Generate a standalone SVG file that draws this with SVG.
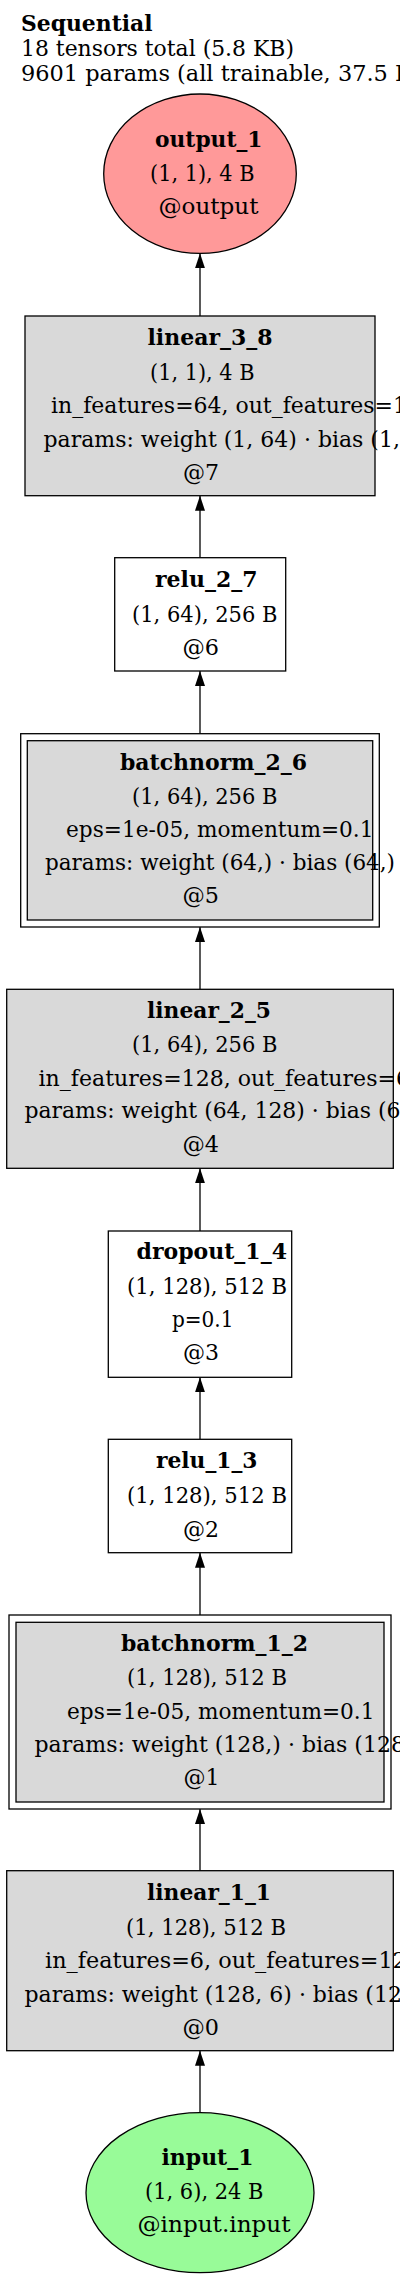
<svg xmlns="http://www.w3.org/2000/svg" width="400" height="2280" viewBox="0 0 400 2280">
<style>
.t{font-family:"DejaVu Serif","Liberation Serif",serif;font-size:21.5px;fill:#000}
.b{font-weight:bold}
.n{stroke:#000;stroke-width:1.3}
.g{fill:#d9d9d9}
.w{fill:#fff}
.e{stroke:#000;stroke-width:1.3;fill:none}
</style>
<defs>
<marker id="ah" viewBox="0 0 15 10" refX="15" refY="5" markerWidth="15" markerHeight="10" markerUnits="userSpaceOnUse" orient="auto">
<path d="M0,0 L15,5 L0,10 z" fill="#000"/>
</marker>
</defs>
<rect width="400" height="2280" fill="#fff"/>
<g id="header">
<text class="t b" x="21" y="31" textLength="131.5" lengthAdjust="spacingAndGlyphs">Sequential</text>
<text class="t" x="21" y="56" textLength="273" lengthAdjust="spacingAndGlyphs">18 tensors total (5.8 KB)</text>
<text class="t" x="21" y="80.5" textLength="416" lengthAdjust="spacingAndGlyphs">9601 params (all trainable, 37.5 KB)</text>
</g>
<g id="connectors">
<path class="e" d="M200,2112.7 V2050.7" marker-end="url(#ah)"/>
<path class="e" d="M200,1870.7 V1809" marker-end="url(#ah)"/>
<path class="e" d="M200,1615 V1552.7" marker-end="url(#ah)"/>
<path class="e" d="M200,1439.3 V1377.3" marker-end="url(#ah)"/>
<path class="e" d="M200,1231 V1168.3" marker-end="url(#ah)"/>
<path class="e" d="M200,989.3 V927" marker-end="url(#ah)"/>
<path class="e" d="M200,733.7 V671" marker-end="url(#ah)"/>
<path class="e" d="M200,557.7 V495.7" marker-end="url(#ah)"/>
<path class="e" d="M200,316 V253.3" marker-end="url(#ah)"/>
</g>
<g id="output_1">
<ellipse class="n" cx="200" cy="173.7" rx="96.3" ry="79.7" fill="#ff9999"/>
<text class="t b" x="155" y="146.7" textLength="107.5" lengthAdjust="spacingAndGlyphs">output_1</text>
<text class="t" x="150" y="180.5" textLength="104.5" lengthAdjust="spacingAndGlyphs">(1, 1), 4 B</text>
<text class="t" x="158.5" y="214" textLength="100" lengthAdjust="spacingAndGlyphs">@output</text>
</g>
<g id="linear_3_8">
<rect class="n g" x="25" y="316" width="350" height="179.7"/>
<text class="t b" x="147.5" y="345" textLength="125" lengthAdjust="spacingAndGlyphs">linear_3_8</text>
<text class="t" x="150" y="380" textLength="104.5" lengthAdjust="spacingAndGlyphs">(1, 1), 4 B</text>
<text class="t" x="51" y="413.3" textLength="356" lengthAdjust="spacingAndGlyphs">in_features=64, out_features=1</text>
<text class="t" x="43.5" y="446.7" textLength="386" lengthAdjust="spacingAndGlyphs">params: weight (1, 64) · bias (1, 1)</text>
<text class="t" x="183" y="480" textLength="36" lengthAdjust="spacingAndGlyphs">@7</text>
</g>
<g id="relu_2_7">
<rect class="n w" x="114.7" y="557.7" width="171" height="113.3"/>
<text class="t b" x="155" y="587.3" textLength="102.5" lengthAdjust="spacingAndGlyphs">relu_2_7</text>
<text class="t" x="132" y="621.7" textLength="145.5" lengthAdjust="spacingAndGlyphs">(1, 64), 256 B</text>
<text class="t" x="182.5" y="655" textLength="36.5" lengthAdjust="spacingAndGlyphs">@6</text>
</g>
<g id="batchnorm_2_6">
<rect class="n w" x="20.7" y="733.7" width="358.6" height="193.3"/>
<rect class="n g" x="27.3" y="740.7" width="345.4" height="179.3"/>
<text class="t b" x="120" y="770" textLength="187" lengthAdjust="spacingAndGlyphs">batchnorm_2_6</text>
<text class="t" x="132" y="804" textLength="145.5" lengthAdjust="spacingAndGlyphs">(1, 64), 256 B</text>
<text class="t" x="66" y="836.7" textLength="307.5" lengthAdjust="spacingAndGlyphs">eps=1e-05, momentum=0.1</text>
<text class="t" x="45" y="870" textLength="350" lengthAdjust="spacingAndGlyphs">params: weight (64,) · bias (64,)</text>
<text class="t" x="182.5" y="903.3" textLength="36.5" lengthAdjust="spacingAndGlyphs">@5</text>
</g>
<g id="linear_2_5">
<rect class="n g" x="6.7" y="989.3" width="386.6" height="179"/>
<text class="t b" x="147" y="1018.3" textLength="124" lengthAdjust="spacingAndGlyphs">linear_2_5</text>
<text class="t" x="132" y="1052.3" textLength="145.5" lengthAdjust="spacingAndGlyphs">(1, 64), 256 B</text>
<text class="t" x="38.5" y="1085.7" textLength="385.5" lengthAdjust="spacingAndGlyphs">in_features=128, out_features=64</text>
<text class="t" x="24.5" y="1118.3" textLength="405.5" lengthAdjust="spacingAndGlyphs">params: weight (64, 128) · bias (64,)</text>
<text class="t" x="182.5" y="1151.7" textLength="36.5" lengthAdjust="spacingAndGlyphs">@4</text>
</g>
<g id="dropout_1_4">
<rect class="n w" x="108.3" y="1231" width="183.4" height="146.3"/>
<text class="t b" x="136.5" y="1259.3" textLength="150.5" lengthAdjust="spacingAndGlyphs">dropout_1_4</text>
<text class="t" x="127" y="1294" textLength="160" lengthAdjust="spacingAndGlyphs">(1, 128), 512 B</text>
<text class="t" x="172" y="1327.3" textLength="61.5" lengthAdjust="spacingAndGlyphs">p=0.1</text>
<text class="t" x="183" y="1360" textLength="36" lengthAdjust="spacingAndGlyphs">@3</text>
</g>
<g id="relu_1_3">
<rect class="n w" x="108.3" y="1439.3" width="183.4" height="113.4"/>
<text class="t b" x="156" y="1468.3" textLength="101.5" lengthAdjust="spacingAndGlyphs">relu_1_3</text>
<text class="t" x="127" y="1503.3" textLength="160" lengthAdjust="spacingAndGlyphs">(1, 128), 512 B</text>
<text class="t" x="183" y="1536.7" textLength="36" lengthAdjust="spacingAndGlyphs">@2</text>
</g>
<g id="batchnorm_1_2">
<rect class="n w" x="9" y="1615" width="382" height="194"/>
<rect class="n g" x="16" y="1622.3" width="368" height="179.7"/>
<text class="t b" x="121" y="1650.7" textLength="187" lengthAdjust="spacingAndGlyphs">batchnorm_1_2</text>
<text class="t" x="127" y="1685" textLength="160" lengthAdjust="spacingAndGlyphs">(1, 128), 512 B</text>
<text class="t" x="67" y="1718.5" textLength="307.5" lengthAdjust="spacingAndGlyphs">eps=1e-05, momentum=0.1</text>
<text class="t" x="34.5" y="1751.8" textLength="386" lengthAdjust="spacingAndGlyphs">params: weight (128,) · bias (128,)</text>
<text class="t" x="183.5" y="1785" textLength="36" lengthAdjust="spacingAndGlyphs">@1</text>
</g>
<g id="linear_1_1">
<rect class="n g" x="6.7" y="1870.7" width="386.6" height="180"/>
<text class="t b" x="147" y="1900" textLength="124" lengthAdjust="spacingAndGlyphs">linear_1_1</text>
<text class="t" x="126" y="1935" textLength="160" lengthAdjust="spacingAndGlyphs">(1, 128), 512 B</text>
<text class="t" x="45" y="1968.3" textLength="376" lengthAdjust="spacingAndGlyphs">in_features=6, out_features=128</text>
<text class="t" x="24.5" y="2001.7" textLength="407" lengthAdjust="spacingAndGlyphs">params: weight (128, 6) · bias (128,)</text>
<text class="t" x="182.5" y="2035" textLength="36.5" lengthAdjust="spacingAndGlyphs">@0</text>
</g>
<g id="input_1">
<ellipse class="n" cx="200" cy="2192.7" rx="114" ry="80" fill="#98fb98"/>
<text class="t b" x="161.5" y="2165" textLength="92" lengthAdjust="spacingAndGlyphs">input_1</text>
<text class="t" x="145" y="2199.3" textLength="118.5" lengthAdjust="spacingAndGlyphs">(1, 6), 24 B</text>
<text class="t" x="137.5" y="2232.3" textLength="153" lengthAdjust="spacingAndGlyphs">@input.input</text>
</g>
</svg>
